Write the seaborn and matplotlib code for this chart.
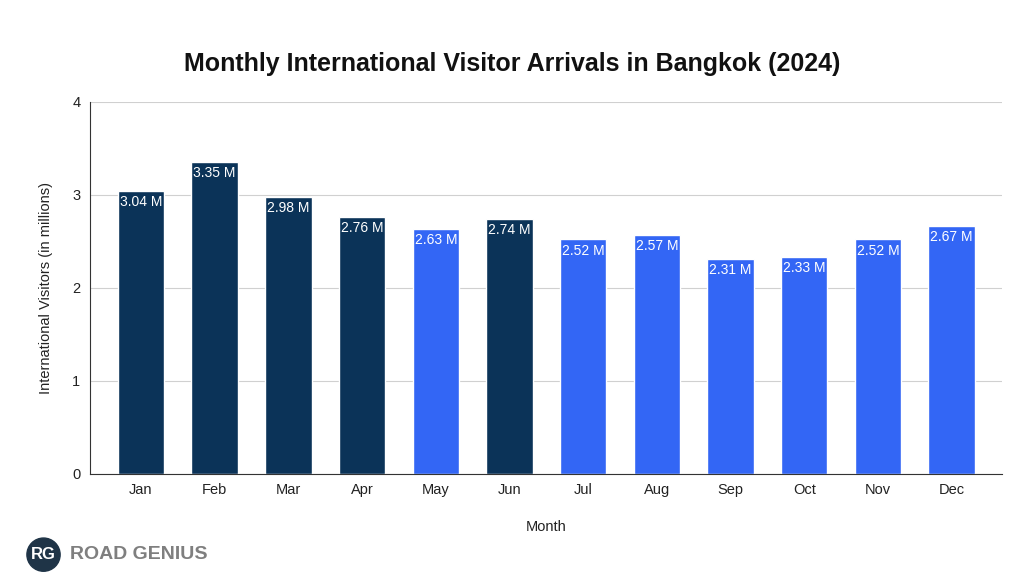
import matplotlib
matplotlib.use("Agg")
import matplotlib.pyplot as plt
import seaborn as sns
import pandas as pd

months = ["Jan","Feb","Mar","Apr","May","Jun","Jul","Aug","Sep","Oct","Nov","Dec"]
visitors = [3.04,3.35,2.98,2.76,2.63,2.74,2.52,2.57,2.31,2.33,2.52,2.67]
dark_months = ["Jan","Feb","Mar","Apr","Jun"]

sns.set_theme(style="white")
plt.rcParams['font.family'] = ['Liberation Sans', 'DejaVu Sans']

df = pd.DataFrame({"Month": months, "Visitors": visitors})
dark, bright = "#0b3358", "#3366f5"
palette = {m: (dark if m in dark_months else bright) for m in months}

fig = plt.figure(figsize=(10.24, 5.82), dpi=100)
ax = fig.add_axes([0.088, 0.186, 0.891, 0.639])
sns.barplot(data=df, x="Month", y="Visitors", hue="Month", palette=palette,
            legend=False, width=0.63, ax=ax, saturation=1)
ax.set_ylim(0, 4)
ax.set_xlim(-0.69, 11.69)
ax.set_yticks([0,1,2,3,4])
ax.grid(axis="y", color="#d0d0d0", linewidth=0.8)
ax.set_axisbelow(True)
for s in ["top","right"]:
    ax.spines[s].set_visible(False)
ax.spines["left"].set_color("#333333")
ax.spines["bottom"].set_color("#333333")
ax.spines["left"].set_linewidth(0.8)
ax.spines["bottom"].set_linewidth(0.8)
ax.tick_params(axis="both", labelsize=10.5, colors="#222222", length=0, pad=7)
ax.set_xlabel("Month", fontsize=10.5, labelpad=16, color="#222222")
ax.set_ylabel("International Visitors (in millions)", fontsize=10.5, labelpad=14, color="#222222")
for i, v in enumerate(visitors):
    ax.text(i, v - 0.045, f"{v:.2f} M", ha="center", va="top", color="white", fontsize=10)

fig.text(0.5, 0.89, "Monthly International Visitor Arrivals in Bangkok (2024)",
         ha="center", va="center", fontsize=18, fontweight="bold", color="#111111")

# logo
fig.text(0.0425, 0.047, "RG", ha="center", va="center", color="white",
         fontsize=12, fontweight="bold",
         bbox=dict(boxstyle="circle,pad=0.25", fc="#1f3447", ec="#1f3447"))
fig.text(0.068, 0.047, "ROAD GENIUS", ha="left", va="center", color="#7f7f7f",
         fontsize=14, fontweight="bold")

fig.savefig("out.png", dpi=100)
